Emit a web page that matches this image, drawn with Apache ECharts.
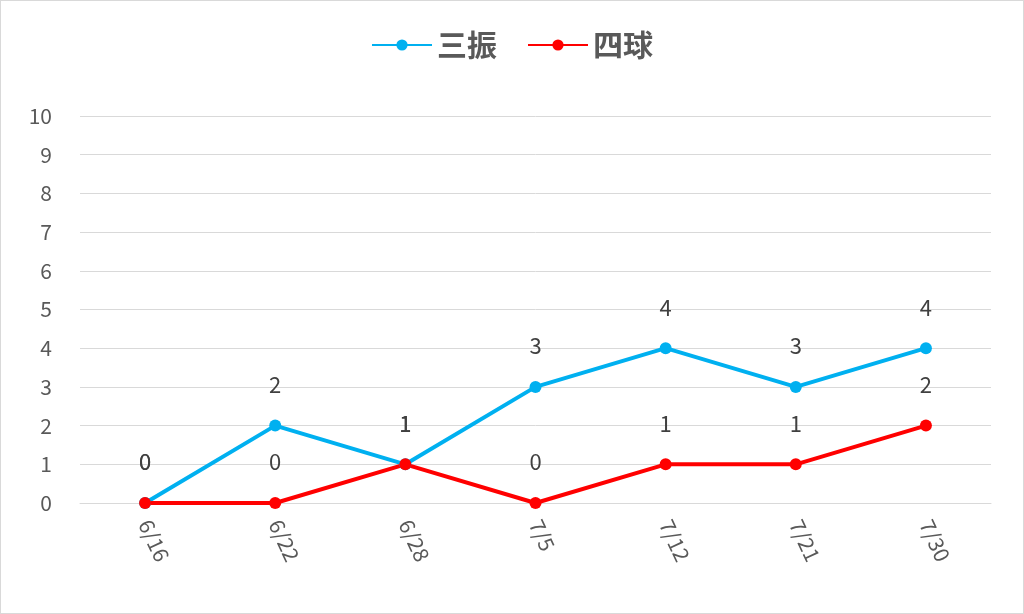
<!DOCTYPE html>
<html><head><meta charset="utf-8">
<script src="https://cdn.jsdelivr.net/npm/echarts@6/dist/echarts.min.js"></script>
<style>html,body{margin:0;padding:0;background:#fff}#c{width:1022px;height:612px;border:1px solid #d9d9d9}</style>
</head><body><div id="c"></div>
<script>
const categories = ['6/16','6/22','6/28','7/5','7/12','7/21','7/30'];
const strikeouts = [0,2,1,3,4,3,4];
const walks = [0,0,1,0,1,1,2];
const chart = echarts.init(document.getElementById('c'));
const font = '"Noto Sans CJK JP", "Noto Sans", sans-serif';
chart.setOption({
  animation:false,
  legend:{top:24,left:'center',itemWidth:60,itemHeight:14,itemGap:30,
    textStyle:{fontSize:30,color:'#595959',fontFamily:font,fontWeight:'bold'},
    data:['三振','四球']},
  grid:{left:79,right:32,top:115,bottom:110,containLabel:false},
  xAxis:{type:'category',data:categories,boundaryGap:true,
    axisLine:{lineStyle:{color:'#d9d9d9'}},axisTick:{show:false},
    axisLabel:{rotate:-65,fontSize:21,color:'#595959',fontFamily:font,margin:18}},
  yAxis:{type:'value',min:0,max:10,interval:1,
    axisLine:{show:false},axisTick:{show:false},
    splitLine:{lineStyle:{color:'#d9d9d9'}},
    axisLabel:{fontSize:21,color:'#595959',fontFamily:font,margin:28}},
  series:[
    {name:'三振',type:'line',data:strikeouts,color:'#00b0f0',symbol:'circle',symbolSize:12,
     lineStyle:{width:4},label:{show:true,position:'top',distance:24,fontSize:22,color:'#404040',fontFamily:font}},
    {name:'四球',type:'line',data:walks,color:'#ff0000',symbol:'circle',symbolSize:12,
     lineStyle:{width:4},label:{show:true,position:'top',distance:24,fontSize:22,color:'#404040',fontFamily:font}}
  ]
});
</script></body></html>
